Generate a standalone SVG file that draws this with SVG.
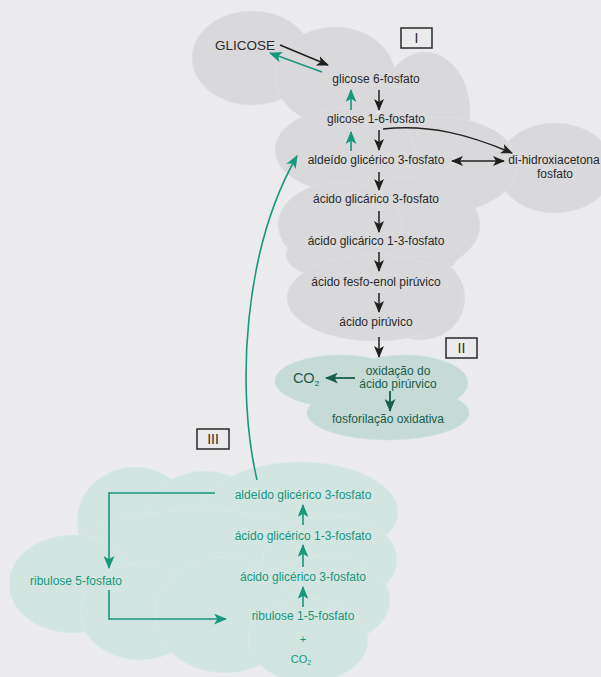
<svg xmlns="http://www.w3.org/2000/svg" width="601" height="677" viewBox="0 0 601 677">
<defs>
<style>
.bg{fill:#ebebed}
.c1 ellipse{fill:#d9d9db;stroke:#e0e0e2;stroke-width:0.6}
.c2 ellipse{fill:#c6dad6;stroke:#cfe0dc;stroke-width:0.6}
.c3 ellipse{fill:#d3e5e1;stroke:#dcebe8;stroke-width:0.6}
text{font-family:"Liberation Sans",Arial,sans-serif;font-size:12px;text-anchor:middle}
.k{fill:#2a2a2a}
.t{fill:#17987d}
.g{fill:#16604c}
.box{fill:none;stroke:#2a2a2a;stroke-width:1.5}
.lk{fill:none;stroke:#231f20;stroke-width:1.5}
.lt{fill:none;stroke:#17987d;stroke-width:1.6}
.lg{fill:none;stroke:#16604c;stroke-width:1.8}
</style>
<marker id="ak" viewBox="0 0 12 10" refX="11" refY="5" markerWidth="12" markerHeight="10" markerUnits="userSpaceOnUse" orient="auto-start-reverse"><path d="M0,0 L12,5 L0,10 L3,5 z" fill="#231f20"/></marker>
<marker id="at" viewBox="0 0 12 10" refX="11" refY="5" markerWidth="13" markerHeight="11" markerUnits="userSpaceOnUse" orient="auto"><path d="M0,0 L12,5 L0,10 L3,5 z" fill="#17987d"/></marker>
<marker id="ag" viewBox="0 0 12 10" refX="11" refY="5" markerWidth="13" markerHeight="11" markerUnits="userSpaceOnUse" orient="auto"><path d="M0,0 L12,5 L0,10 L3,5 z" fill="#16604c"/></marker>
</defs>
<rect class="bg" x="0" y="0" width="601" height="677"/>

<g id="cloud-I" class="c1">
<ellipse cx="252" cy="58" rx="60" ry="47"/>
<ellipse cx="425" cy="112" rx="45" ry="60"/>
<ellipse cx="335" cy="76" rx="60" ry="49"/>
<ellipse cx="555" cy="168" rx="58" ry="45"/>
<ellipse cx="440" cy="165" rx="78" ry="48"/>
<ellipse cx="345" cy="150" rx="70" ry="42"/>
<ellipse cx="372" cy="255" rx="86" ry="30"/>
<ellipse cx="405" cy="225" rx="75" ry="48"/>
<ellipse cx="340" cy="225" rx="62" ry="43"/>
<ellipse cx="420" cy="298" rx="45" ry="42"/>
<ellipse cx="375" cy="298" rx="88" ry="43"/>
</g>

<g id="cloud-II" class="c2">
<ellipse cx="340" cy="381" rx="65" ry="26"/>
<ellipse cx="405" cy="383" rx="63" ry="28"/>
<ellipse cx="388" cy="413" rx="81" ry="27"/>
</g>

<g id="cloud-III" class="c3">
<ellipse cx="135" cy="522" rx="58" ry="55"/>
<ellipse cx="205" cy="527" rx="62" ry="56"/>
<ellipse cx="300" cy="512" rx="98" ry="50"/>
<ellipse cx="200" cy="570" rx="150" ry="60"/>
<ellipse cx="330" cy="560" rx="67" ry="45"/>
<ellipse cx="73" cy="584" rx="64" ry="49"/>
<ellipse cx="140" cy="612" rx="60" ry="48"/>
<ellipse cx="325" cy="600" rx="65" ry="45"/>
<ellipse cx="225" cy="615" rx="70" ry="58"/>
<ellipse cx="308" cy="640" rx="60" ry="42"/>
</g>

<g id="label-I"><rect class="box" x="401" y="28" width="31" height="20"/><text class="k" x="416.5" y="43" style="font-size:14px">I</text></g>
<g id="label-II"><rect class="box" x="446" y="338" width="31" height="20"/><text class="k" x="461.5" y="353" style="font-size:14px">II</text></g>
<g id="label-III"><rect class="box" x="197" y="429" width="32" height="20"/><text class="k" x="213" y="444" style="font-size:14px">III</text></g>

<g id="glicose"><text class="k" x="245" y="50" style="font-size:13.5px">GLICOSE</text></g>
<g id="glicose-6-fosfato"><text class="k" x="376" y="83">glicose 6-fosfato</text></g>
<g id="glicose-1-6-fosfato"><text class="k" x="376" y="123">glicose 1-6-fosfato</text></g>
<g id="aldeido-I"><text class="k" x="376" y="164">aldeído glicérico 3-fosfato</text></g>
<g id="di-hidroxiacetona"><text class="k" x="554" y="164">di-hidroxiacetona</text><text class="k" x="555" y="178">fosfato</text></g>
<g id="acido-glicarico-3"><text class="k" x="376" y="203">ácido glicárico 3-fosfato</text></g>
<g id="acido-glicarico-1-3"><text class="k" x="376" y="245">ácido glicárico 1-3-fosfato</text></g>
<g id="acido-fesfo-enol"><text class="k" x="376" y="286">ácido fesfo-enol pirúvico</text></g>
<g id="acido-piruvico"><text class="k" x="376" y="326">ácido pirúvico</text></g>

<g id="oxidacao"><text class="g" x="398" y="375">oxidação do</text><text class="g" x="398" y="388">ácido pirúrvico</text></g>
<g id="co2-II"><text class="g" x="306" y="383" style="font-size:14.5px">CO<tspan style="font-size:8px" dy="3">2</tspan></text></g>
<g id="fosforilacao"><text class="g" x="388" y="423">fosforilação oxidativa</text></g>

<g id="aldeido-III"><text class="t" x="303" y="499">aldeído glicérico 3-fosfato</text></g>
<g id="acido-glicerico-1-3"><text class="t" x="303" y="540">ácido glicérico 1-3-fosfato</text></g>
<g id="acido-glicerico-3"><text class="t" x="303" y="581">ácido glicérico 3-fosfato</text></g>
<g id="ribulose-1-5"><text class="t" x="303" y="620">ribulose 1-5-fosfato</text><text class="t" x="303" y="643" style="font-size:11px">+</text><text class="t" x="301" y="663" style="font-size:11px">CO<tspan style="font-size:7px" dy="2">2</tspan></text></g>
<g id="ribulose-5"><text class="t" x="76" y="585">ribulose 5-fosfato</text></g>

<g id="connectors">
<line class="lk" x1="280" y1="45" x2="328" y2="65" marker-end="url(#ak)"/>
<line class="lt" x1="322" y1="72" x2="270" y2="53" marker-end="url(#at)"/>
<line class="lk" x1="379" y1="90" x2="379" y2="110" marker-end="url(#ak)"/>
<line class="lt" x1="351" y1="110" x2="351" y2="90" marker-end="url(#at)"/>
<line class="lk" x1="379" y1="130" x2="379" y2="150" marker-end="url(#ak)"/>
<line class="lt" x1="351" y1="151" x2="351" y2="132" marker-end="url(#at)"/>
<path class="lk" d="M383,129 C430,124 470,135 512,153" marker-end="url(#ak)"/>
<line class="lk" x1="452" y1="161" x2="504" y2="161" marker-start="url(#ak)" marker-end="url(#ak)"/>
<line class="lk" x1="379" y1="172" x2="379" y2="190" marker-end="url(#ak)"/>
<line class="lk" x1="379" y1="211" x2="379" y2="232" marker-end="url(#ak)"/>
<line class="lk" x1="379" y1="252" x2="379" y2="271" marker-end="url(#ak)"/>
<line class="lk" x1="379" y1="293" x2="379" y2="312" marker-end="url(#ak)"/>
<line class="lk" x1="379" y1="337" x2="379" y2="357" marker-end="url(#ak)"/>
<line class="lg" x1="355" y1="378" x2="326" y2="378" marker-end="url(#ag)"/>
<line class="lg" x1="390" y1="391" x2="390" y2="411" marker-end="url(#ag)"/>
<path class="lt" d="M257,480 C236,390 243,250 297,156" marker-end="url(#at)"/>
<polyline class="lt" points="215,493 109,493 109,568" marker-end="url(#at)"/>
<polyline class="lt" points="109,590 109,619 226,619" marker-end="url(#at)"/>
<line class="lt" x1="303" y1="525" x2="303" y2="505" marker-end="url(#at)"/>
<line class="lt" x1="303" y1="567" x2="303" y2="545" marker-end="url(#at)"/>
<line class="lt" x1="303" y1="607" x2="303" y2="587" marker-end="url(#at)"/>
</g>
</svg>
